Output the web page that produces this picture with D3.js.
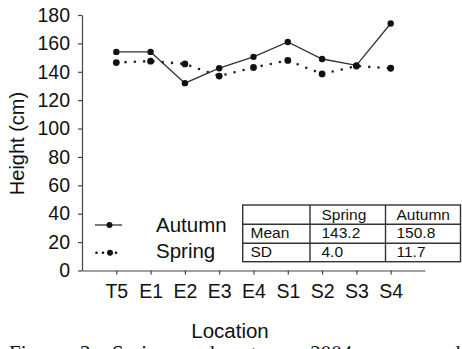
<!DOCTYPE html>
<html>
<head>
<meta charset="utf-8">
<script src="https://cdn.jsdelivr.net/npm/d3@7"></script>
<style>
  html, body { margin: 0; padding: 0; background: #fff; }
  svg { display: block; }
</style>
</head>
<body>
<svg id="chart" width="462" height="349"></svg>
<script>
const locations = ["T5", "E1", "E2", "E3", "E4", "S1", "S2", "S3", "S4"];
const autumn = [154, 154, 132, 142.5, 150.5, 161, 149, 144.5, 174];
const spring = [146.5, 147.5, 145.5, 137, 143, 148, 138.5, 144, 142.5];
const yTicks = [0, 20, 40, 60, 80, 100, 120, 140, 160, 180];
const tableHeader = ["", "Spring", "Autumn"];
const tableRows = [["Mean", "143.2", "150.8"], ["SD", "4.0", "11.7"]];
const seriesNames = ["Autumn", "Spring"];
const caption = "Figure 3. Spring and autumn 2004 mean and";

const svg = d3.select("#chart");
const ink = "#222";
const font = "'Liberation Sans', Arial, sans-serif";

const x = d3.scalePoint().domain(locations).range([82, 425]).padding(1);
const y = d3.scaleLinear().domain([0, 180]).range([270.5, 15]);

// Y axis
const yAxis = svg.append("g").attr("transform", "translate(82,0)")
  .call(d3.axisLeft(y).tickValues(yTicks).tickSize(4).tickSizeOuter(0).tickPadding(8));
yAxis.select(".domain").attr("stroke", "#444").attr("stroke-width", 1.2);
yAxis.selectAll(".tick line").attr("stroke", "#444").attr("stroke-width", 1.2);
yAxis.selectAll(".tick text").attr("font-family", font).attr("font-size", "19.5px").attr("fill", "#111");

// X axis
const xAxis = svg.append("g").attr("transform", "translate(0,270.5)")
  .call(d3.axisBottom(x).tickSize(4).tickSizeOuter(0).tickPadding(10));
xAxis.select(".domain").attr("stroke", "#444").attr("stroke-width", 1.2);
xAxis.selectAll(".tick line").attr("stroke", "#444").attr("stroke-width", 1.2);
xAxis.selectAll(".tick text").attr("font-family", font).attr("font-size", "19.5px").attr("fill", "#111");

// Axis titles
svg.append("text").attr("transform", "translate(24,143.5) rotate(-90)")
  .attr("text-anchor", "middle").attr("font-family", font).attr("font-size", "20px").attr("fill", "#111")
  .text("Height (cm)");
svg.append("text").attr("x", 230).attr("y", 338)
  .attr("text-anchor", "middle").attr("font-family", font).attr("font-size", "20.5px").attr("fill", "#111")
  .text("Location");

// Lines
const line = d3.line().x((d, i) => x(locations[i])).y(d => y(d));
svg.append("path").datum(spring).attr("d", line).attr("fill", "none")
  .attr("stroke", ink).attr("stroke-width", 2.6).attr("stroke-linecap", "round")
  .attr("stroke-dasharray", "0 9.3");
svg.append("path").datum(autumn).attr("d", line).attr("fill", "none")
  .attr("stroke", "#333").attr("stroke-width", 1.3);

svg.append("g").selectAll("circle").data(spring).join("circle")
  .attr("cx", (d, i) => x(locations[i])).attr("cy", d => y(d)).attr("r", 3.4).attr("fill", "#111");
svg.append("g").selectAll("circle").data(autumn).join("circle")
  .attr("cx", (d, i) => x(locations[i])).attr("cy", d => y(d)).attr("r", 3.2).attr("fill", "#111");

// Legend
const lg = svg.append("g");
lg.append("line").attr("x1", 95).attr("x2", 122).attr("y1", 225).attr("y2", 225)
  .attr("stroke", "#333").attr("stroke-width", 1.3);
lg.append("circle").attr("cx", 109.5).attr("cy", 225).attr("r", 3).attr("fill", "#111");
[96.5, 103, 116].forEach(cx => lg.append("circle").attr("cx", cx).attr("cy", 252.7).attr("r", 1.3).attr("fill", "#111"));
lg.append("circle").attr("cx", 110).attr("cy", 252.7).attr("r", 3).attr("fill", "#111");
lg.selectAll("text.leg").data(seriesNames).join("text").attr("class", "leg")
  .attr("x", 156).attr("y", (d, i) => i === 0 ? 231.7 : 257.5)
  .attr("font-family", font).attr("font-size", "20.5px").attr("fill", "#111").text(d => d);

// Table
const tb = svg.append("g");
const colX = [242.7, 310, 385.5, 460.5];
const rowY = [205, 224.2, 243.3, 261.7];
tb.append("rect").attr("x", colX[0]).attr("y", rowY[0]).attr("width", colX[3] - colX[0]).attr("height", rowY[3] - rowY[0])
  .attr("fill", "#fff").attr("stroke", "#333").attr("stroke-width", 1.4);
[colX[1], colX[2]].forEach(cx => tb.append("line").attr("x1", cx).attr("x2", cx).attr("y1", rowY[0]).attr("y2", rowY[3])
  .attr("stroke", "#333").attr("stroke-width", 1.4));
[rowY[1], rowY[2]].forEach(ry => tb.append("line").attr("x1", colX[0]).attr("x2", colX[3]).attr("y1", ry).attr("y2", ry)
  .attr("stroke", "#333").attr("stroke-width", 1.4));
const allRows = [tableHeader].concat(tableRows);
const baselines = [219.5, 238, 257];
const textX = [250.5, 321.5, 396.5];
allRows.forEach((row, r) => {
  row.forEach((cell, c) => {
    tb.append("text").attr("x", textX[c]).attr("y", baselines[r])
      .attr("font-family", font).attr("font-size", "15.5px").attr("fill", "#111").text(cell);
  });
});

// Caption (clipped at bottom, as in the reference)
svg.append("text").attr("x", 9).attr("y", 360)
  .attr("font-family", "'Liberation Serif', 'Times New Roman', serif").attr("font-size", "21px")
  .attr("word-spacing", "11px").attr("fill", "#111").text(caption);
</script>
</body>
</html>
